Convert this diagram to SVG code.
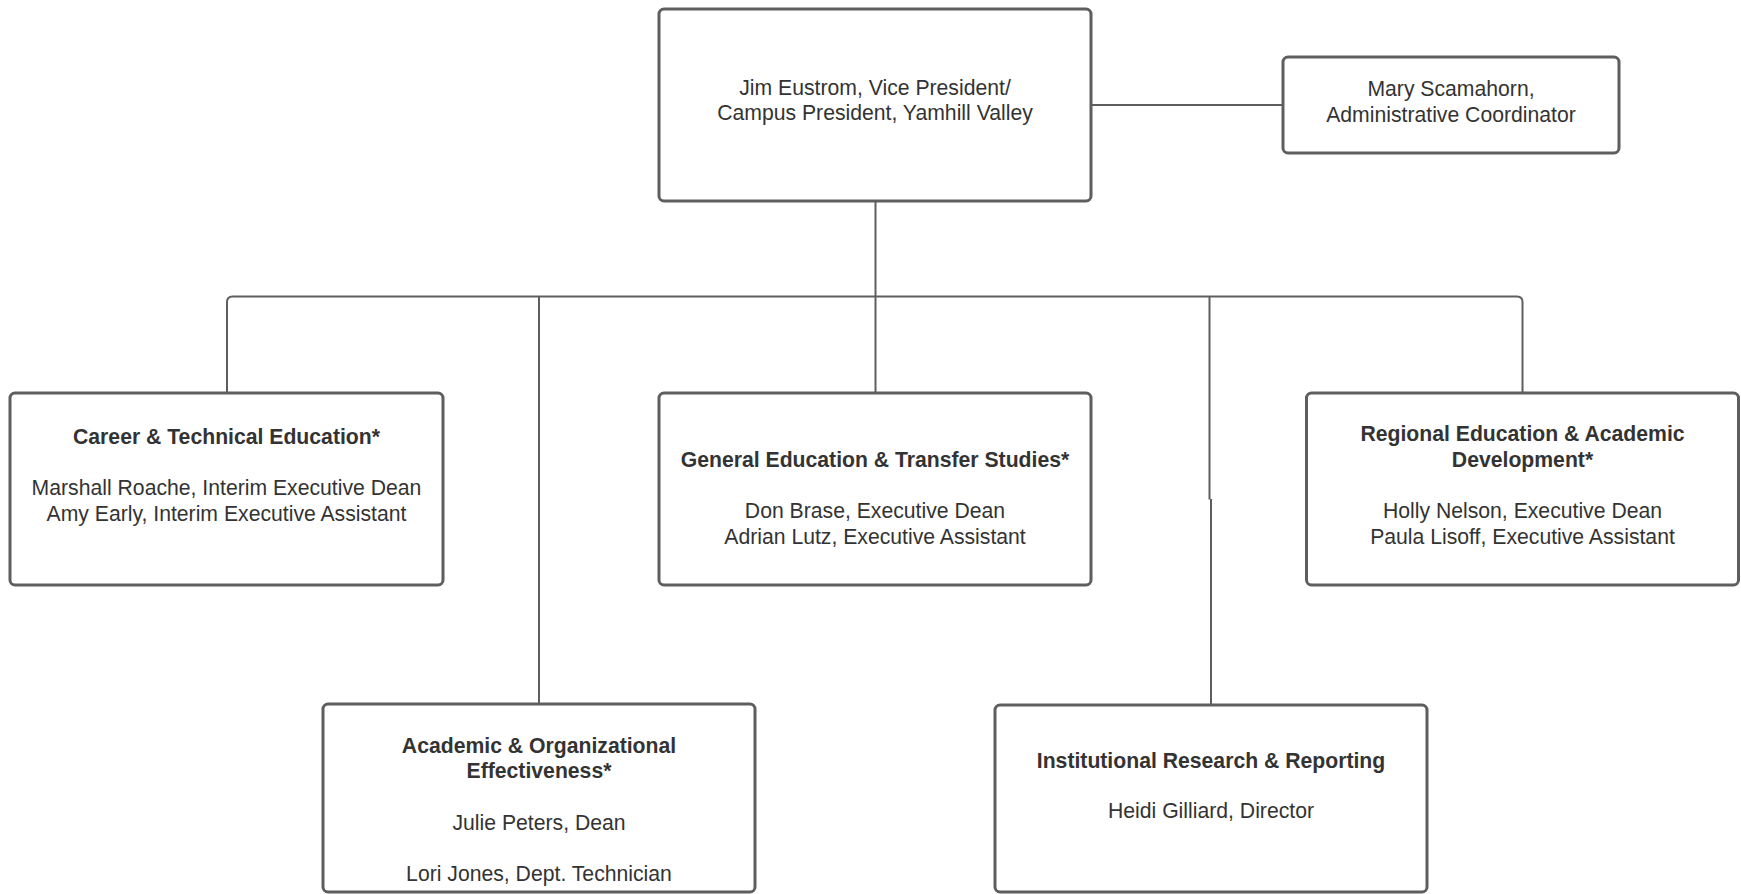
<svg xmlns="http://www.w3.org/2000/svg" width="1741" height="894" viewBox="0 0 1741 894">
<style>
.box{fill:#ffffff;stroke:#5e5e5e;stroke-width:3}
.conn{fill:none;stroke:#5e5e5e;stroke-width:2}
text{font-family:"Liberation Sans",Arial,sans-serif;font-size:21.2px;fill:#333333;text-anchor:middle}
.b{font-weight:bold}
</style>
<rect width="1741" height="894" fill="#ffffff"/>
<g id="connectors">
<path class="conn" d="M1091,105 H1283"/>
<path class="conn" d="M875.5,201 V393"/>
<path class="conn" d="M227,393 V302 Q227,296.5 232.5,296.5 H1517 Q1522.5,296.5 1522.5,302 V393"/>
<path class="conn" d="M539,296.5 V704"/>
<path class="conn" d="M1209.5,296.5 V499.5 M1211,499 V705"/>
</g>
<g id="vp">
<rect class="box" x="659" y="9" width="432" height="192" rx="5"/>
<text x="875" y="95">Jim Eustrom, Vice President/</text>
<text x="875" y="120">Campus President, Yamhill Valley</text>
</g>
<g id="mary">
<rect class="box" x="1283" y="57" width="336" height="96" rx="5"/>
<text x="1451" y="95.5">Mary Scamahorn,</text>
<text x="1451" y="121.5">Administrative Coordinator</text>
</g>
<g id="cte">
<rect class="box" x="10" y="393" width="433" height="192" rx="5"/>
<text class="b" x="226.5" y="444">Career &amp; Technical Education*</text>
<text x="226.5" y="495">Marshall Roache, Interim Executive Dean</text>
<text x="226.5" y="520.5">Amy Early, Interim Executive Assistant</text>
</g>
<g id="gets">
<rect class="box" x="659" y="393" width="432" height="192" rx="5"/>
<text class="b" x="875" y="466.5">General Education &amp; Transfer Studies*</text>
<text x="875" y="518">Don Brase, Executive Dean</text>
<text x="875" y="543.5">Adrian Lutz, Executive Assistant</text>
</g>
<g id="read">
<rect class="box" x="1306.5" y="393" width="432" height="192" rx="5"/>
<text class="b" x="1522.5" y="441">Regional Education &amp; Academic</text>
<text class="b" x="1522.5" y="466.5">Development*</text>
<text x="1522.5" y="518">Holly Nelson, Executive Dean</text>
<text x="1522.5" y="543.5">Paula Lisoff, Executive Assistant</text>
</g>
<g id="aoe">
<rect class="box" x="323" y="704" width="432" height="188" rx="5"/>
<text class="b" x="539" y="752.5">Academic &amp; Organizational</text>
<text class="b" x="539" y="778">Effectiveness*</text>
<text x="539" y="829.5">Julie Peters, Dean</text>
<text x="539" y="880.5">Lori Jones, Dept. Technician</text>
</g>
<g id="irr">
<rect class="box" x="995" y="705" width="432" height="187" rx="5"/>
<text class="b" x="1211" y="768">Institutional Research &amp; Reporting</text>
<text x="1211" y="818">Heidi Gilliard, Director</text>
</g>
</svg>
